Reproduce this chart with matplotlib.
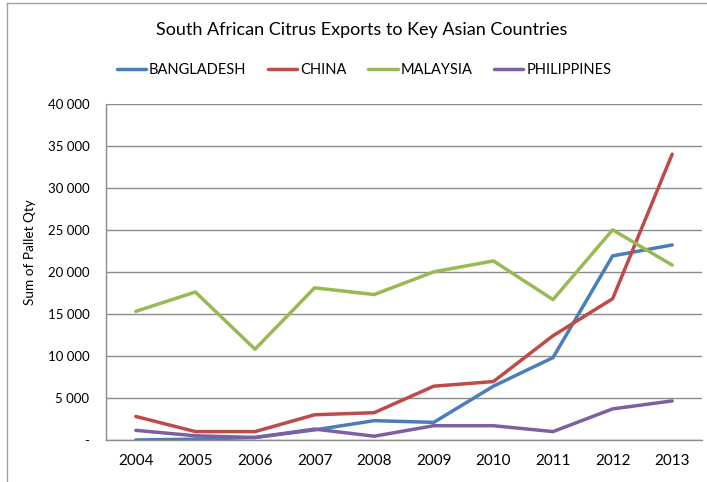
import matplotlib
matplotlib.use("Agg")
import matplotlib.pyplot as plt
from matplotlib.lines import Line2D
from matplotlib.ticker import FuncFormatter

plt.rcParams["font.family"] = ["Lato", "DejaVu Sans"]

years = ["2004", "2005", "2006", "2007", "2008", "2009", "2010", "2011", "2012", "2013"]
bangladesh = [0, 100, 300, 1200, 2300, 2100, 6400, 9800, 21900, 23200]
china = [2800, 1000, 1000, 3000, 3250, 6400, 6950, 12400, 16800, 34000]
malaysia = [15300, 17600, 10800, 18100, 17300, 20000, 21300, 16700, 25000, 20800]
philippines = [1150, 500, 300, 1300, 450, 1700, 1700, 1000, 3700, 4650]

series = [
    ("BANGLADESH", bangladesh, "#4A7EBB"),
    ("CHINA", china, "#BE4B48"),
    ("MALAYSIA", malaysia, "#98B954"),
    ("PHILIPPINES", philippines, "#7D60A0"),
]

fig = plt.figure(figsize=(7.07, 4.82), dpi=100)
ax = fig.add_axes([106 / 707, 42 / 482, 596 / 707, 336.3 / 482])

x = list(range(len(years)))
for name, vals, color in series:
    ax.plot(x, vals, color=color, linewidth=2.5, label=name, solid_capstyle="round")

ax.set_xlim(-0.5, len(years) - 0.5)
ax.set_ylim(0, 40000)
ax.set_yticks(range(0, 40001, 5000))
ax.yaxis.set_major_formatter(
    FuncFormatter(lambda v, _: "-" if v == 0 else f"{int(v):,}".replace(",", " "))
)
ax.set_xticks(x)
ax.set_xticklabels(years)
ax.grid(axis="y", color="#8c8c8c", linewidth=1.0)
ax.set_axisbelow(True)

for side in ("top", "right"):
    ax.spines[side].set_visible(False)
for side in ("left", "bottom"):
    ax.spines[side].set_color("#8c8c8c")
    ax.spines[side].set_linewidth(1.0)

ax.tick_params(axis="y", length=0, pad=12, labelsize=9.5)
ax.tick_params(axis="x", length=0, pad=10, labelsize=11)

fig.text(30 / 707, 1 - 252 / 482, "Sum of Pallet Qty", rotation=90,
         ha="center", va="center", fontsize=9.8)
fig.text(362 / 707, 1 - 30 / 482, "South African Citrus Exports to Key Asian Countries",
         ha="center", va="center", fontsize=13)

fig.legend(loc="center", bbox_to_anchor=(364 / 707, 1 - 70 / 482), ncol=4,
           frameon=False, fontsize=10.5, handlelength=2.0, handletextpad=0.2,
           columnspacing=1.5)

# outer chart border (left and top only visible in the crop)
fig.add_artist(Line2D([7 / 707, 7 / 707], [0, 1 - 3 / 482], transform=fig.transFigure,
                      color="#a0a0a0", linewidth=1.0))
fig.add_artist(Line2D([7 / 707, 1], [1 - 3 / 482, 1 - 3 / 482], transform=fig.transFigure,
                      color="#a0a0a0", linewidth=1.0))

fig.savefig("out.png", dpi=100)
